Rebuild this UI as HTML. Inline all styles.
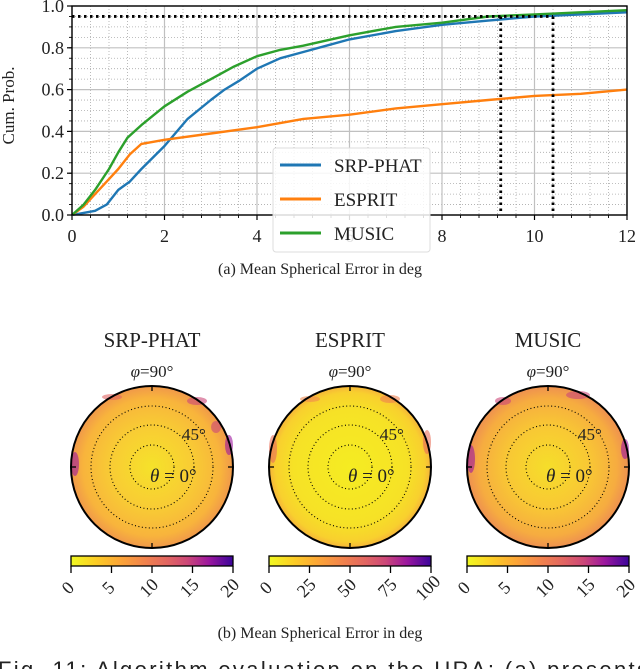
<!DOCTYPE html>
<html><head><meta charset="utf-8"><style>
html,body{margin:0;padding:0;width:640px;height:669px;overflow:hidden;background:#fff}
svg{display:block}
text{font-family:"Liberation Serif",serif;fill:#222}
</style></head><body>
<svg id="fig" width="640" height="669" viewBox="0 0 640 669" xmlns="http://www.w3.org/2000/svg">
<defs>
<linearGradient id="plasma" x1="0" x2="1" y1="0" y2="0">
<stop offset="0" stop-color="#f0f921"/><stop offset="0.15" stop-color="#fcce25"/><stop offset="0.3" stop-color="#fca636"/><stop offset="0.45" stop-color="#f2844b"/><stop offset="0.6" stop-color="#e16462"/><stop offset="0.72" stop-color="#cc4778"/><stop offset="0.85" stop-color="#9c179e"/><stop offset="1" stop-color="#3a049a"/>
</linearGradient>
<radialGradient id="discA"><stop offset="0" stop-color="#f6e22a"/><stop offset="0.5" stop-color="#f8cc34"/><stop offset="0.85" stop-color="#f8b43c"/><stop offset="1" stop-color="#f0984a"/></radialGradient>
<radialGradient id="discB"><stop offset="0" stop-color="#f5ec22"/><stop offset="0.7" stop-color="#f6e226"/><stop offset="0.92" stop-color="#f8d02e"/><stop offset="1" stop-color="#f6b43a"/></radialGradient>
<radialGradient id="discC"><stop offset="0" stop-color="#f6de2a"/><stop offset="0.5" stop-color="#f8c834"/><stop offset="0.85" stop-color="#f6ac40"/><stop offset="1" stop-color="#ee9050"/></radialGradient>
</defs>
<g id="cdf"></g>
<g id="polars"></g>
<text x="320" y="274" font-size="16" text-anchor="middle">(a) Mean Spherical Error in deg</text>
<text x="320" y="638" font-size="16" text-anchor="middle">(b) Mean Spherical Error in deg</text>
<text x="-2" y="677" font-size="22" textLength="650" lengthAdjust="spacing" style="font-family:'Liberation Sans',sans-serif">Fig. 11: Algorithm evaluation on the URA: (a) presents</text>
</svg>
<script>
const xs_srp=[0,0.25,0.5,0.75,1,1.25,1.5,2,2.5,3,3.3,3.6,4,4.5,5,5.5,6,7,8,9,10,11,12];
const ys_srp=[0,0.01,0.02,0.05,0.12,0.16,0.22,0.33,0.46,0.55,0.6,0.64,0.7,0.75,0.78,0.81,0.84,0.88,0.91,0.93,0.95,0.96,0.97];
const xs_esp=[0,0.25,0.5,0.75,1,1.25,1.5,2,3,4,5,6,7,8,9,10,11,12];
const ys_esp=[0,0.04,0.1,0.16,0.22,0.29,0.34,0.36,0.39,0.42,0.46,0.48,0.51,0.53,0.55,0.57,0.58,0.6];
const xs_mus=[0,0.25,0.5,0.8,1,1.2,1.5,2,2.5,3,3.5,4,4.5,5,6,7,8,9,10,11,12];
const ys_mus=[0,0.05,0.12,0.22,0.3,0.37,0.43,0.52,0.59,0.65,0.71,0.76,0.79,0.81,0.86,0.9,0.92,0.95,0.96,0.97,0.98];
const seriesNames=["SRP-PHAT","ESPRIT","MUSIC"];
const seriesColors=["#1f77b4","#ff7f0e","#2ca02c"];
const xTicks=[0,2,4,6,8,10,12];
const yTicks=[0,0.2,0.4,0.6,0.8,1.0];
const refLevel=0.95;
const refX=[9.27,10.4];
const cbMax=[20,100,20];
const cbTickVals=[[0,5,10,15,20],[0,25,50,75,100],[0,5,10,15,20]];
const polarTitles=["SRP-PHAT","ESPRIT","MUSIC"];

const NS="http://www.w3.org/2000/svg";
function mk(tag,attrs,parent){const e=document.createElementNS(NS,tag);for(const k in attrs)e.setAttribute(k,attrs[k]);parent.appendChild(e);return e;}
const L=72,R=627,T=6,B=215;
const sx=v=>L+(v/12)*(R-L);
const sy=v=>B-v*(B-T);
const g=document.getElementById('cdf');
for(let v=0.4;v<12;v+=0.4){if(Math.abs(v/2-Math.round(v/2))<1e-6)continue;const l=mk('line',{x1:sx(v),x2:sx(v),y1:T,y2:B,stroke:'#aaa','stroke-width':0.8,'stroke-dasharray':'1,2'},g);}
for(let v=0.05;v<1;v+=0.05){if(Math.abs(v/0.2-Math.round(v/0.2))<1e-6)continue;const l=mk('line',{x1:L,x2:R,y1:sy(v),y2:sy(v),stroke:'#aaa','stroke-width':0.8,'stroke-dasharray':'1,2'},g);}
xTicks.forEach(v=>{const l=mk('line',{x1:sx(v),x2:sx(v),y1:T,y2:B,stroke:'#c0c0c0','stroke-width':1.2},g);
 mk('line',{x1:sx(v),x2:sx(v),y1:B,y2:B+5,stroke:'#000','stroke-width':1.2},g);
 const t=mk('text',{x:sx(v),y:B+27,'font-size':18,'text-anchor':'middle'},g);t.textContent=v;});
yTicks.forEach(v=>{const l=mk('line',{x1:L,x2:R,y1:sy(v),y2:sy(v),stroke:'#c0c0c0','stroke-width':1.2},g);
 mk('line',{x1:L-5,x2:L,y1:sy(v),y2:sy(v),stroke:'#000','stroke-width':1.2},g);
 const t=mk('text',{x:L-8,y:sy(v)+6,'font-size':18,'text-anchor':'end'},g);t.textContent=v.toFixed(1);});
for(let v=0.4;v<12;v+=0.4)mk('line',{x1:sx(v),x2:sx(v),y1:B,y2:B+3,stroke:'#000','stroke-width':0.9},g);
for(let v=0.05;v<1;v+=0.05)mk('line',{x1:L-3,x2:L,y1:sy(v),y2:sy(v),stroke:'#000','stroke-width':0.9},g);
const yt=mk('text',{x:0,y:0,'font-size':17,'text-anchor':'middle',transform:`translate(14,${(T+B)/2-5}) rotate(-90)`},g);yt.textContent='Cum. Prob.';

[[xs_srp,ys_srp],[xs_esp,ys_esp],[xs_mus,ys_mus]].forEach((s,i)=>{
 const d=s[0].map((x,j)=>(j?'L':'M')+sx(x).toFixed(1)+','+sy(s[1][j]).toFixed(1)).join(' ');
 const p=mk('path',{d:d,fill:'none',stroke:seriesColors[i],'stroke-width':2.4,'stroke-linejoin':'round'},g);
 
 
});
const rh=mk('line',{x1:sx(0),x2:sx(refX[1]),y1:sy(refLevel),y2:sy(refLevel),stroke:'#000','stroke-width':2.8,'stroke-dasharray':'2.5,3.5'},g);

refX.forEach(v=>{const l=mk('line',{x1:sx(v),x2:sx(v),y1:sy(refLevel),y2:B,stroke:'#000','stroke-width':2.8,'stroke-dasharray':'2.5,3.5'},g);
 });
mk('rect',{x:L,y:T,width:R-L,height:B-T,fill:'none',stroke:'#000','stroke-width':1.4},g);
const lg=mk('g',{},g);
mk('rect',{x:273,y:148,width:157,height:104,rx:3,fill:'rgba(255,255,255,0.85)',stroke:'#ddd'},lg);
seriesNames.forEach((n,i)=>{const y=165+i*34;
 mk('line',{x1:280,x2:321,y1:y,y2:y,stroke:seriesColors[i],'stroke-width':3},lg);
 const t=mk('text',{x:334,y:y+7,'font-size':19},lg);t.textContent=n;});

const pg=document.getElementById('polars');
const centers=[152,350,548];const cy=467,Rr=81;
const discs=['url(#discA)','url(#discB)','url(#discC)'];
const patches=[
 [[-77,-3,4,12,'#9c179e'],[77,-22,4,10,'#9c179e'],[45,-66,10,4,'#cc4778'],[-40,-70,10,3,'#e16462'],[64,-40,5,6,'#cc4778']],
 [[-77,-18,4,14,'#e8705a'],[77,-25,4,12,'#e8705a'],[40,-68,10,4,'#ee8050'],[-40,-68,10,3,'#f08a4e']],
 [[-77,-8,4,14,'#9c179e'],[77,-18,4,10,'#9c179e'],[30,-72,12,4,'#cc4778'],[-45,-66,8,4,'#cc4778']]
];
centers.forEach((cx,i)=>{
 const pgi=mk('g',{},pg);
 const t=mk('text',{x:cx,y:347,'font-size':21,'text-anchor':'middle'},pgi);t.textContent=polarTitles[i];
 const p=mk('text',{x:cx,y:377,'font-size':17,'text-anchor':'middle'},pgi);p.innerHTML='<tspan font-style="italic">φ</tspan>=90°';
 mk('circle',{cx:cx,cy:cy,r:Rr,fill:discs[i]},pgi);
 patches[i].forEach(q=>mk('ellipse',{cx:cx+q[0],cy:cy+q[1],rx:q[2],ry:q[3],fill:q[4],opacity:0.6},pgi));
 [22,42,61].forEach(r=>mk('circle',{cx:cx,cy:cy,r:r,fill:'none',stroke:'#000','stroke-width':1.1,'stroke-dasharray':'1,2.5'},pgi));
 mk('circle',{cx:cx,cy:cy,r:Rr,fill:'none',stroke:'#000','stroke-width':2},pgi);
 [[0,-1],[0,1],[-1,0],[1,0]].forEach(d=>mk('line',{x1:cx+d[0]*Rr,y1:cy+d[1]*Rr,x2:cx+d[0]*(Rr-5),y2:cy+d[1]*(Rr-5),stroke:'#000','stroke-width':1.3},pgi));
 const a=mk('text',{x:cx+30,y:cy-27,'font-size':17},pgi);a.textContent='45°';
 const z=mk('text',{x:cx-2,y:cy+15,'font-size':19},pgi);z.innerHTML='<tspan font-style="italic">θ</tspan> = 0°';
 const bx=cx-81,bw=162,by=556;
 const cb=mk('rect',{x:bx,y:by,width:bw,height:10,fill:'url(#plasma)',stroke:'#000','stroke-width':1.3},pgi);
 
 cbTickVals[i].forEach(v=>{const x=bx+v/cbMax[i]*bw;
  mk('line',{x1:x,x2:x,y1:by+10,y2:by+17,stroke:'#000','stroke-width':1.3},pgi);
  const tl=mk('text',{x:0,y:0,'font-size':18,'text-anchor':'middle',transform:`translate(${x+1},${by+36}) rotate(-45)`},pgi);tl.textContent=v;
  });
});
</script>
</body></html>
